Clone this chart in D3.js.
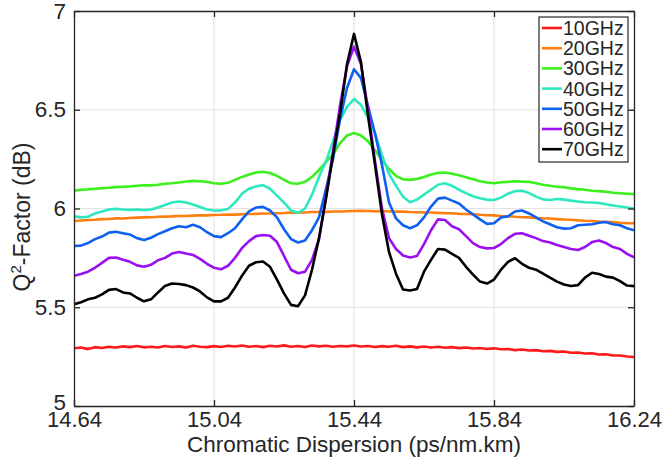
<!DOCTYPE html>
<html><head><meta charset="utf-8">
<script src="https://cdn.jsdelivr.net/npm/d3@7/dist/d3.min.js"></script>
<style>body{margin:0;background:#fff}svg{display:block}text{font-family:"Liberation Sans",Arial,Helvetica,sans-serif;fill:#262626}</style>
</head><body><svg id="c" width="666" height="458"></svg>
<script>
const dispersion = [14.64,14.66,14.68,14.70,14.72,14.74,14.76,14.78,14.80,14.82,14.84,14.86,14.88,14.90,14.92,14.94,14.96,14.98,15.00,15.02,15.04,15.06,15.08,15.10,15.12,15.14,15.16,15.18,15.20,15.22,15.24,15.26,15.28,15.30,15.32,15.34,15.36,15.38,15.40,15.42,15.44,15.46,15.48,15.50,15.52,15.54,15.56,15.58,15.60,15.62,15.64,15.66,15.68,15.70,15.72,15.74,15.76,15.78,15.80,15.82,15.84,15.86,15.88,15.90,15.92,15.94,15.96,15.98,16.00,16.02,16.04,16.06,16.08,16.10,16.12,16.14,16.16,16.18,16.20,16.22,16.24];
const seriesNames = ["10GHz","20GHz","30GHz","40GHz","50GHz","60GHz","70GHz"];
const q10 = [5.292,5.296,5.288,5.298,5.294,5.300,5.296,5.302,5.298,5.304,5.297,5.300,5.296,5.304,5.299,5.302,5.296,5.305,5.300,5.298,5.303,5.299,5.305,5.301,5.306,5.300,5.304,5.298,5.305,5.301,5.307,5.300,5.304,5.299,5.306,5.302,5.305,5.300,5.304,5.302,5.306,5.301,5.304,5.299,5.303,5.300,5.305,5.298,5.302,5.297,5.301,5.296,5.300,5.295,5.298,5.293,5.296,5.291,5.294,5.289,5.292,5.287,5.289,5.283,5.286,5.281,5.283,5.277,5.279,5.274,5.276,5.270,5.271,5.266,5.267,5.261,5.262,5.256,5.256,5.251,5.248];
const q20 = [5.937,5.939,5.942,5.943,5.946,5.947,5.950,5.949,5.952,5.954,5.955,5.956,5.958,5.959,5.960,5.962,5.962,5.964,5.966,5.965,5.967,5.968,5.970,5.969,5.971,5.972,5.973,5.975,5.975,5.976,5.977,5.979,5.979,5.980,5.982,5.982,5.983,5.985,5.985,5.986,5.987,5.988,5.987,5.986,5.987,5.985,5.984,5.984,5.982,5.981,5.980,5.980,5.978,5.976,5.976,5.973,5.972,5.971,5.968,5.966,5.965,5.962,5.961,5.958,5.956,5.955,5.952,5.950,5.949,5.946,5.944,5.943,5.940,5.938,5.937,5.934,5.932,5.931,5.928,5.926,5.925];
const q30 = [6.090,6.095,6.097,6.100,6.103,6.105,6.108,6.110,6.112,6.115,6.118,6.117,6.120,6.125,6.128,6.132,6.137,6.140,6.138,6.135,6.128,6.125,6.130,6.145,6.160,6.172,6.182,6.186,6.180,6.165,6.145,6.128,6.125,6.135,6.160,6.195,6.235,6.275,6.330,6.370,6.382,6.370,6.340,6.295,6.245,6.200,6.165,6.148,6.145,6.150,6.160,6.172,6.180,6.182,6.176,6.168,6.158,6.148,6.138,6.132,6.128,6.133,6.135,6.138,6.136,6.135,6.128,6.120,6.115,6.110,6.108,6.102,6.098,6.095,6.090,6.088,6.085,6.080,6.077,6.075,6.073];
const q40 = [5.960,5.955,5.958,5.975,5.985,5.995,5.998,5.995,5.993,5.995,5.992,5.995,6.005,6.018,6.030,6.035,6.030,6.020,6.008,5.995,5.990,5.990,5.998,6.030,6.075,6.100,6.112,6.118,6.100,6.065,6.030,5.990,5.978,6.000,6.070,6.160,6.240,6.340,6.448,6.515,6.554,6.525,6.460,6.380,6.270,6.175,6.115,6.060,6.032,6.045,6.070,6.095,6.120,6.128,6.115,6.095,6.078,6.062,6.052,6.045,6.043,6.055,6.075,6.088,6.090,6.078,6.060,6.046,6.043,6.048,6.045,6.040,6.035,6.032,6.030,6.028,6.022,6.015,6.010,6.005,6.000];
const q50 = [5.810,5.812,5.825,5.845,5.858,5.878,5.882,5.875,5.868,5.850,5.840,5.852,5.870,5.885,5.900,5.910,5.905,5.918,5.905,5.880,5.860,5.855,5.875,5.900,5.945,5.985,6.005,6.008,5.990,5.955,5.895,5.845,5.828,5.838,5.890,5.955,6.100,6.250,6.450,6.610,6.705,6.660,6.520,6.380,6.220,6.030,5.950,5.915,5.900,5.915,5.955,6.010,6.050,6.055,6.040,6.025,5.995,5.970,5.945,5.922,5.925,5.955,5.960,5.985,5.990,5.975,5.955,5.935,5.920,5.905,5.898,5.900,5.915,5.918,5.920,5.928,5.932,5.920,5.915,5.900,5.890];
const q60 = [5.660,5.668,5.680,5.700,5.725,5.750,5.752,5.740,5.730,5.712,5.705,5.715,5.738,5.750,5.772,5.780,5.772,5.765,5.745,5.720,5.700,5.692,5.710,5.750,5.800,5.835,5.860,5.866,5.862,5.830,5.760,5.690,5.672,5.680,5.740,5.845,6.060,6.290,6.520,6.720,6.820,6.730,6.500,6.240,6.000,5.850,5.795,5.762,5.752,5.760,5.820,5.890,5.945,5.942,5.910,5.895,5.860,5.825,5.805,5.798,5.800,5.820,5.850,5.872,5.875,5.862,5.850,5.835,5.828,5.815,5.805,5.795,5.790,5.805,5.830,5.838,5.825,5.805,5.795,5.770,5.753];
const q70 = [5.515,5.525,5.540,5.548,5.565,5.588,5.592,5.575,5.570,5.548,5.530,5.540,5.575,5.608,5.620,5.618,5.612,5.600,5.580,5.550,5.530,5.530,5.548,5.600,5.660,5.710,5.728,5.732,5.705,5.640,5.570,5.512,5.505,5.560,5.690,5.850,6.050,6.270,6.480,6.730,6.884,6.740,6.470,6.220,5.970,5.780,5.670,5.590,5.585,5.592,5.680,5.740,5.795,5.792,5.770,5.750,5.705,5.665,5.630,5.620,5.640,5.690,5.730,5.748,5.720,5.700,5.690,5.670,5.650,5.630,5.615,5.608,5.612,5.650,5.675,5.668,5.655,5.650,5.632,5.610,5.607];
const seriesColors = ["#ff1a1a","#ff7f0e","#3cf01e","#2ee8c0","#1060f0","#9b10f0","#000000"];
const xTicks = [14.64,15.04,15.44,15.84,16.24];
const yTicks = [5,5.5,6,6.5,7];
const yTickLabels = ["5","5.5","6","6.5","7"];

const allSeries = [q10,q20,q30,q40,q50,q60,q70];
const svg = d3.select("#c");
const L=74,R=634,T=11,B=406;
const x = d3.scaleLinear().domain([14.64,16.24]).range([L,R]);
const y = d3.scaleLinear().domain([5,7]).range([B,T]);

// grid
svg.append("g").selectAll("line").data(xTicks.slice(1,-1)).join("line")
  .attr("x1",d=>x(d)).attr("x2",d=>x(d)).attr("y1",T).attr("y2",B)
  .attr("stroke","#e3e3e3").attr("stroke-width",1.2);
svg.append("g").selectAll("line").data(yTicks.slice(1,-1)).join("line")
  .attr("y1",d=>y(d)).attr("y2",d=>y(d)).attr("x1",L).attr("x2",R)
  .attr("stroke","#e3e3e3").attr("stroke-width",1.2);

// lines
const line = d3.line().x((d,i)=>x(dispersion[i])).y(d=>y(d));
svg.append("g").selectAll("path").data(allSeries).join("path")
  .attr("d",d=>line(d)).attr("fill","none")
  .attr("stroke",(d,i)=>seriesColors[i]).attr("stroke-width",2.6)
  .attr("stroke-linejoin","round");

// axes
const xb = svg.append("g").attr("transform",`translate(0,${B})`).call(d3.axisBottom(x).tickValues(xTicks).tickFormat(d3.format(".2f")).tickSizeInner(-6).tickSizeOuter(0).tickPadding(5));
const xt = svg.append("g").attr("transform",`translate(0,${T})`).call(d3.axisTop(x).tickValues(xTicks).tickFormat("").tickSizeInner(-6).tickSizeOuter(0));
const yl = svg.append("g").attr("transform",`translate(${L},0)`).call(d3.axisLeft(y).tickValues(yTicks).tickFormat((d,i)=>yTickLabels[i]).tickSizeInner(-6).tickSizeOuter(0).tickPadding(8));
const yr = svg.append("g").attr("transform",`translate(${R},0)`).call(d3.axisRight(y).tickValues(yTicks).tickFormat("").tickSizeInner(-6).tickSizeOuter(0));
[xb,xt,yl,yr].forEach(g=>{g.select(".domain").attr("stroke","#262626").attr("stroke-width",1.3);
  g.selectAll(".tick line").attr("stroke","#262626").attr("stroke-width",1.3);
  g.selectAll("text").attr("font-size",22.5).attr("fill","#262626").attr("font-family","Liberation Sans, Arial, sans-serif");});
xb.selectAll("text").attr("font-size",22);
yl.selectAll(".tick text").filter(d=>d===5).attr("dy","0.15em");

// titles
svg.append("text").attr("x",(L+R)/2).attr("y",452).attr("text-anchor","middle").attr("font-size",22.5)
  .text("Chromatic Dispersion (ps/nm.km)");
const yt = svg.append("text").attr("transform","translate(30,217) rotate(-90)").attr("text-anchor","middle").attr("font-size",23);
yt.append("tspan").text("Q");
yt.append("tspan").attr("font-size",15).attr("dy",-9).text("2");
yt.append("tspan").attr("dy",9).text("-Factor (dB)");

// legend
const lg = svg.append("g");
lg.append("rect").attr("x",539).attr("y",17).attr("width",89).attr("height",145)
  .attr("fill","#fff").attr("stroke","#262626").attr("stroke-width",1.2);
const items = lg.selectAll("g.it").data(seriesNames).join("g").attr("class","it")
  .attr("transform",(d,i)=>`translate(0,${28+i*20.2})`);
items.append("line").attr("x1",542).attr("x2",562).attr("y1",0).attr("y2",0)
  .attr("stroke",(d,i)=>seriesColors[i]).attr("stroke-width",2.6);
items.append("text").attr("x",563).attr("y",7).attr("font-size",19.5).text(d=>d);
</script></body></html>
